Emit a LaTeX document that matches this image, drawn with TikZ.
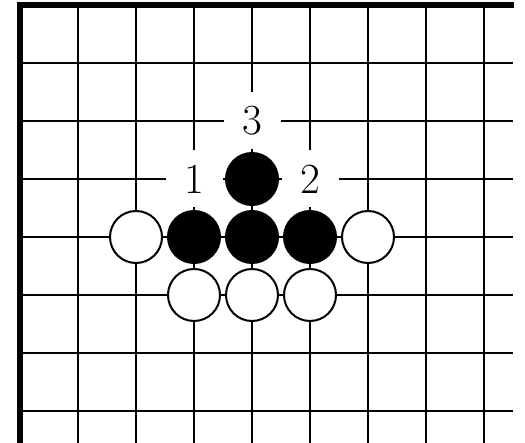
\documentclass[tikz,border=0pt]{standalone}
\begin{document}
\begin{tikzpicture}[x=1pt,y=-1pt,
  gridline/.style={line width=2pt,black},
  edgeline/.style={line width=6pt,black},
  blackstone/.style={circle,fill=black,draw=black,line width=2pt,minimum size=52pt,inner sep=0pt},
  whitestone/.style={circle,fill=white,draw=black,line width=2pt,minimum size=52pt,inner sep=0pt},
  movelabel/.style={fill=white,minimum size=57pt,inner sep=0pt,font=\fontsize{43}{43}\selectfont}]
\useasboundingbox (0,0) rectangle (525,443);
% grid
\foreach \i in {1,...,8} {
  \draw[gridline] (20+58*\i,5) -- (20+58*\i,443);
}
\foreach \j in {1,...,7} {
  \draw[gridline] (20,5+58*\j) -- (513,5+58*\j);
}
\draw[edgeline] (20,443) -- (20,5) -- (514,5);
% labels
\node[movelabel] (l1) at (194,179) {1};
\node[movelabel] (l2) at (310,179) {2};
\node[movelabel] (l3) at (252,121) {3};
% stones
\node[blackstone] (b1) at (252,179) {};
\node[blackstone] (b2) at (194,237) {};
\node[blackstone] (b3) at (252,237) {};
\node[blackstone] (b4) at (310,237) {};
\node[whitestone] (w1) at (136,237) {};
\node[whitestone] (w2) at (368,237) {};
\node[whitestone] (w3) at (194,295) {};
\node[whitestone] (w4) at (252,295) {};
\node[whitestone] (w5) at (310,295) {};
\end{tikzpicture}
\end{document}
